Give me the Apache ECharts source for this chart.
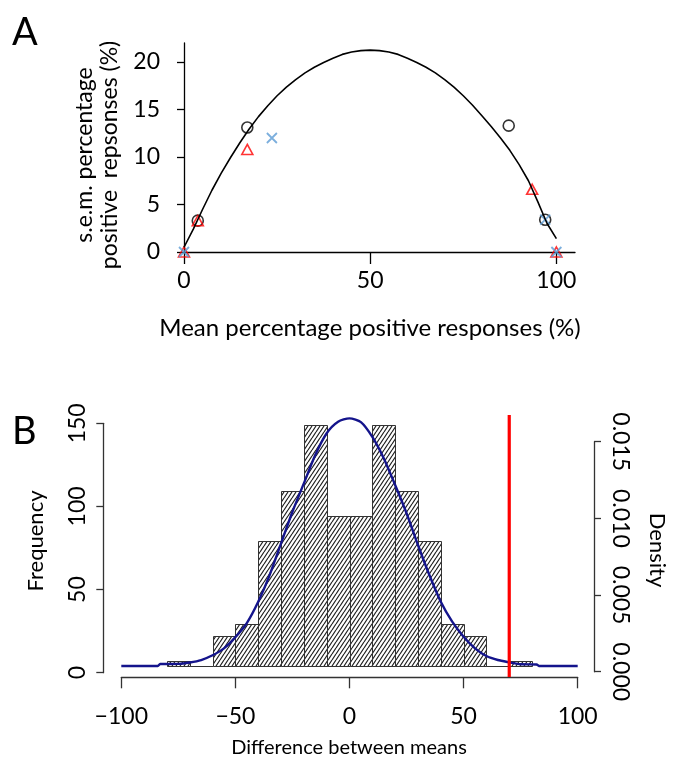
<!DOCTYPE html>
<html><head><meta charset="utf-8">
<script src="https://cdn.jsdelivr.net/npm/echarts@6/dist/echarts.min.js"></script>
<style>html,body{margin:0;padding:0;background:#fff}#c{width:675px;height:768px}</style>
</head><body><div id="c"></div>
<script>
// ---------- Panel A data ----------
const semCurveX = [0, 2.5, 5, 7.5, 10, 12.5, 15, 17.5, 20, 22.5, 25, 27.5, 30, 32.5, 35, 37.5, 40, 42.5, 45, 47.5, 50,
                   52.5, 55, 57.5, 60, 62.5, 65, 67.5, 70, 72.5, 75, 77.5, 80, 82.5, 85, 87.5, 90, 92.5, 95, 97.5, 100];
const semCurveY = [0.5, 2.4, 4.5, 6.5, 8.3, 9.95, 11.5, 12.95, 14.25, 15.4, 16.45, 17.35, 18.15, 18.85, 19.45, 19.95, 20.4, 20.8, 21.05, 21.2, 21.25,
                   21.2, 21.05, 20.8, 20.4, 19.95, 19.45, 18.85, 18.15, 17.35, 16.45, 15.45, 14.35, 13.2, 12.0, 10.7, 9.2, 7.5, 5.3, 3.0, 1.4];
const circleX = [3.7, 17, 87.2, 97];
const circleY = [3.3, 13.1, 13.3, 3.4];
const triangleX = [0, 3.7, 17, 93.5, 100];
const triangleY = [0, 3.3, 10.8, 6.6, 0];
const crossX = [0, 23.6, 97, 100];
const crossY = [0, 12.0, 3.4, 0];
const aXTicks = [0, 50, 100];
const aYTicks = [0, 5, 10, 15, 20];

// ---------- Panel B data ----------
const binEdges = [-80, -70, -60, -50, -40, -30, -20, -10, 0, 10, 20, 30, 40, 50, 60, 70, 80];
const binCounts = [3, 0, 18, 25, 75, 105, 145, 90, 90, 145, 105, 75, 25, 18, 0, 3];
const densX = [-100, -84, -83, -75, -70, -65, -60, -55, -50, -45, -40, -35, -30, -25, -20, -15, -10, -5, 0, 5, 10, 15, 20, 25, 30, 35, 40, 45, 50, 55, 60, 65, 70, 75, 82, 83, 100];
const densY = [0, 0, 0.00013, 0.00014, 0.00023, 0.00039, 0.0007, 0.00115, 0.00188, 0.0028, 0.00419, 0.00593, 0.0080, 0.01006, 0.01191, 0.01376, 0.01518, 0.01593, 0.01615, 0.0159, 0.01494, 0.01355, 0.0118, 0.00996, 0.00789, 0.00593, 0.00419, 0.00289, 0.00191, 0.00115, 0.00065, 0.00039, 0.00024, 0.00011, 0.0001, 0, 0];
const observedDiff = 70;
const bXTicks = [-100, -50, 0, 50, 100];
const freqTicks = [0, 50, 100, 150];
const densTicks = [0, 0.005, 0.010, 0.015];

// ---------- layout constants ----------
const W = 675, H = 768;
const FONT = 'Lato';
const bBase = 666, bTop = 400;           // data grid of panel B (pixel rows)
const freqPx = 249.4 / 150;              // px per count (from visible frequency axis)
const densPx = 76.67 / 0.005;            // px per density unit (from visible density axis)
const freqMax = (bBase - bTop) / freqPx;
const densMax = (bBase - bTop) / densPx;

// hatch pattern
const pc = document.createElement('canvas');
pc.width = 4; pc.height = 6;
const g = pc.getContext('2d');
g.fillStyle = '#ffffff'; g.fillRect(0, 0, 4, 6);
g.strokeStyle = '#1e1e1e'; g.lineWidth = 1.15;
[-4, 0, 4].forEach(o => { g.beginPath(); g.moveTo(o, 6); g.lineTo(o + 4, 0); g.stroke(); });
const hatch = { image: pc, repeat: 'repeat' };

const zip = (a, b) => a.map((v, i) => [v, b[i]]);
const minus = v => (v < 0 ? '\u2212' + Math.abs(v) : String(v));

const chart = echarts.init(document.getElementById('c'), null, { renderer: 'canvas' });

const option = {
  animation: false,
  backgroundColor: '#fff',
  textStyle: { fontFamily: FONT },
  grid: [
    { left: 184, right: W - 575, top: 43, bottom: H - 252 },               // 0 panel A
    { left: 121.3, right: W - 577.7, top: bTop, bottom: H - bBase },       // 1 B data
    { left: 103.3, width: 1, top: 423.3, bottom: H - 672.7 },             // 2 B freq axis
    { right: W - 595, width: 1, top: 441.7, bottom: H - 671.7 },          // 3 B density axis
    { left: 121.3, right: W - 577.7, top: 600, bottom: H - 677.3 },        // 4 B x axis
    { left: 121.3, right: W - 577.7, top: 415, bottom: H - 677 }           // 5 B red line
  ],
  xAxis: [
    { gridIndex: 0, type: 'value', min: 0, max: 105,
      axisLine: { show: true, lineStyle: { color: '#000', width: 1.3 } },
      axisTick: { show: true, length: 12, customValues: aXTicks, lineStyle: { color: '#000', width: 1.3 } },
      axisLabel: { customValues: aXTicks, margin: 17, fontSize: 23, color: '#000', fontFamily: FONT },
      splitLine: { show: false } },
    { gridIndex: 1, type: 'value', min: -100, max: 100, show: false },
    { gridIndex: 2, type: 'value', min: 0, max: 1, show: false },
    { gridIndex: 3, type: 'value', min: 0, max: 1, show: false },
    { gridIndex: 4, type: 'value', min: -100, max: 100, interval: 50,
      axisLine: { show: true, onZero: false, lineStyle: { color: '#333', width: 1.3 } },
      axisTick: { show: true, length: 11, lineStyle: { color: '#333', width: 1.3 } },
      axisLabel: { margin: 28, fontSize: 23, color: '#000', fontFamily: FONT, formatter: minus },
      splitLine: { show: false } },
    { gridIndex: 5, type: 'value', min: -100, max: 100, show: false }
  ],
  yAxis: [
    { gridIndex: 0, type: 'value', min: 0, max: 22,
      axisLine: { show: true, lineStyle: { color: '#000', width: 1.3 } },
      axisTick: { show: true, length: 7, customValues: aYTicks, lineStyle: { color: '#000', width: 1.3 } },
      axisLabel: { customValues: aYTicks, margin: 24, fontSize: 23, color: '#000', fontFamily: FONT },
      splitLine: { show: false } },
    { gridIndex: 1, type: 'value', min: 0, max: freqMax, show: false },
    { gridIndex: 1, type: 'value', min: 0, max: densMax, show: false },
    { gridIndex: 2, type: 'value', min: 0, max: 150, position: 'left',
      axisLine: { show: true, lineStyle: { color: '#333', width: 1.3 } },
      axisTick: { show: true, length: 7, customValues: freqTicks, lineStyle: { color: '#333', width: 1.3 } },
      axisLabel: { customValues: freqTicks, rotate: 90, margin: 14, fontSize: 23, color: '#000', fontFamily: FONT },
      splitLine: { show: false } },
    { gridIndex: 3, type: 'value', min: 0, max: 0.015, position: 'right',
      axisLine: { show: true, lineStyle: { color: '#333', width: 1.3 } },
      axisTick: { show: true, length: 7, customValues: densTicks, lineStyle: { color: '#333', width: 1.3 } },
      axisLabel: { customValues: densTicks, rotate: -90, margin: 14, fontSize: 23, color: '#000', fontFamily: FONT,
                   formatter: v => v.toFixed(3) },
      splitLine: { show: false } },
    { gridIndex: 4, type: 'value', min: 0, max: 1, show: false },
    { gridIndex: 5, type: 'value', min: 0, max: 1, show: false }
  ],
  series: [
    { type: 'line', xAxisIndex: 0, yAxisIndex: 0, data: zip(semCurveX, semCurveY), showSymbol: false,
      smooth: false, clip: false, lineStyle: { color: '#000', width: 1.6 } },
    { type: 'scatter', xAxisIndex: 0, yAxisIndex: 0, data: zip(circleX, circleY), symbol: 'circle', symbolSize: 11,
      clip: false, itemStyle: { color: 'rgba(0,0,0,0)', borderColor: '#000', borderWidth: 1.6 } },
    { type: 'scatter', xAxisIndex: 0, yAxisIndex: 0, data: zip(triangleX, triangleY), symbol: 'triangle', symbolSize: [11, 10],
      clip: false, itemStyle: { color: 'rgba(0,0,0,0)', borderColor: '#ff0000', borderWidth: 1.6 } },
    { type: 'scatter', xAxisIndex: 0, yAxisIndex: 0, data: zip(crossX, crossY), symbol: 'path://M0,0L10,10M10,0L0,10', symbolSize: 10,
      clip: false, itemStyle: { color: 'rgba(0,0,0,0)', borderColor: '#5b9bd5', borderWidth: 1.8 } },
    { type: 'custom', xAxisIndex: 1, yAxisIndex: 1, z: 2,
      data: binCounts.map((c, i) => [binEdges[i], binEdges[i + 1], c]),
      encode: { x: [0, 1], y: 2 }, clip: false,
      renderItem: (params, api) => {
        const p0 = api.coord([api.value(0), api.value(2)]);
        const p1 = api.coord([api.value(1), 0]);
        return { type: 'rect',
          shape: { x: Math.round(p0[0]) + 0.5, y: Math.round(p0[1]) + 0.5,
                   width: Math.round(p1[0]) - Math.round(p0[0]), height: Math.round(p1[1]) - Math.round(p0[1]) },
          style: { fill: hatch, stroke: '#333', lineWidth: 1 } };
      } },
    { type: 'line', xAxisIndex: 1, yAxisIndex: 2, z: 5, data: zip(densX, densY), showSymbol: false, smooth: 0.25,
      clip: false, lineStyle: { color: '#14148c', width: 2.4 } },
    { type: 'line', xAxisIndex: 5, yAxisIndex: 6, z: 6, data: [[observedDiff, 0], [observedDiff, 1]], showSymbol: false,
      clip: false, lineStyle: { color: '#ff0000', width: 3.2 } }
  ],
  graphic: [
    { type: 'text', left: 12, top: 14, style: { text: 'A', font: '38px ' + FONT, fill: '#000' } },
    { type: 'text', left: 12, top: 413, style: { text: 'B', font: '38px ' + FONT, fill: '#000' } },
    { type: 'text', x: 97, y: 155, rotation: Math.PI / 2,
      style: { text: 's.e.m. percentage\npositive  repsonses (%)', font: '23px ' + FONT, fill: '#000',
               align: 'center', verticalAlign: 'middle', lineHeight: 25 } },
    { type: 'text', x: 370, y: 328,
      style: { text: 'Mean percentage positive responses (%)', font: '24px ' + FONT, fill: '#000',
               align: 'center', verticalAlign: 'middle' } },
    { type: 'text', x: 36, y: 541, rotation: Math.PI / 2,
      style: { text: 'Frequency', font: '22px ' + FONT, fill: '#000', align: 'center', verticalAlign: 'middle' } },
    { type: 'text', x: 657, y: 550, rotation: -Math.PI / 2,
      style: { text: 'Density', font: '22px ' + FONT, fill: '#000', align: 'center', verticalAlign: 'middle' } },
    { type: 'text', x: 349, y: 748,
      style: { text: 'Difference between means', font: '20px ' + FONT, fill: '#000', align: 'center', verticalAlign: 'middle' } }
  ]
};
chart.setOption(option);
</script>
</body></html>
